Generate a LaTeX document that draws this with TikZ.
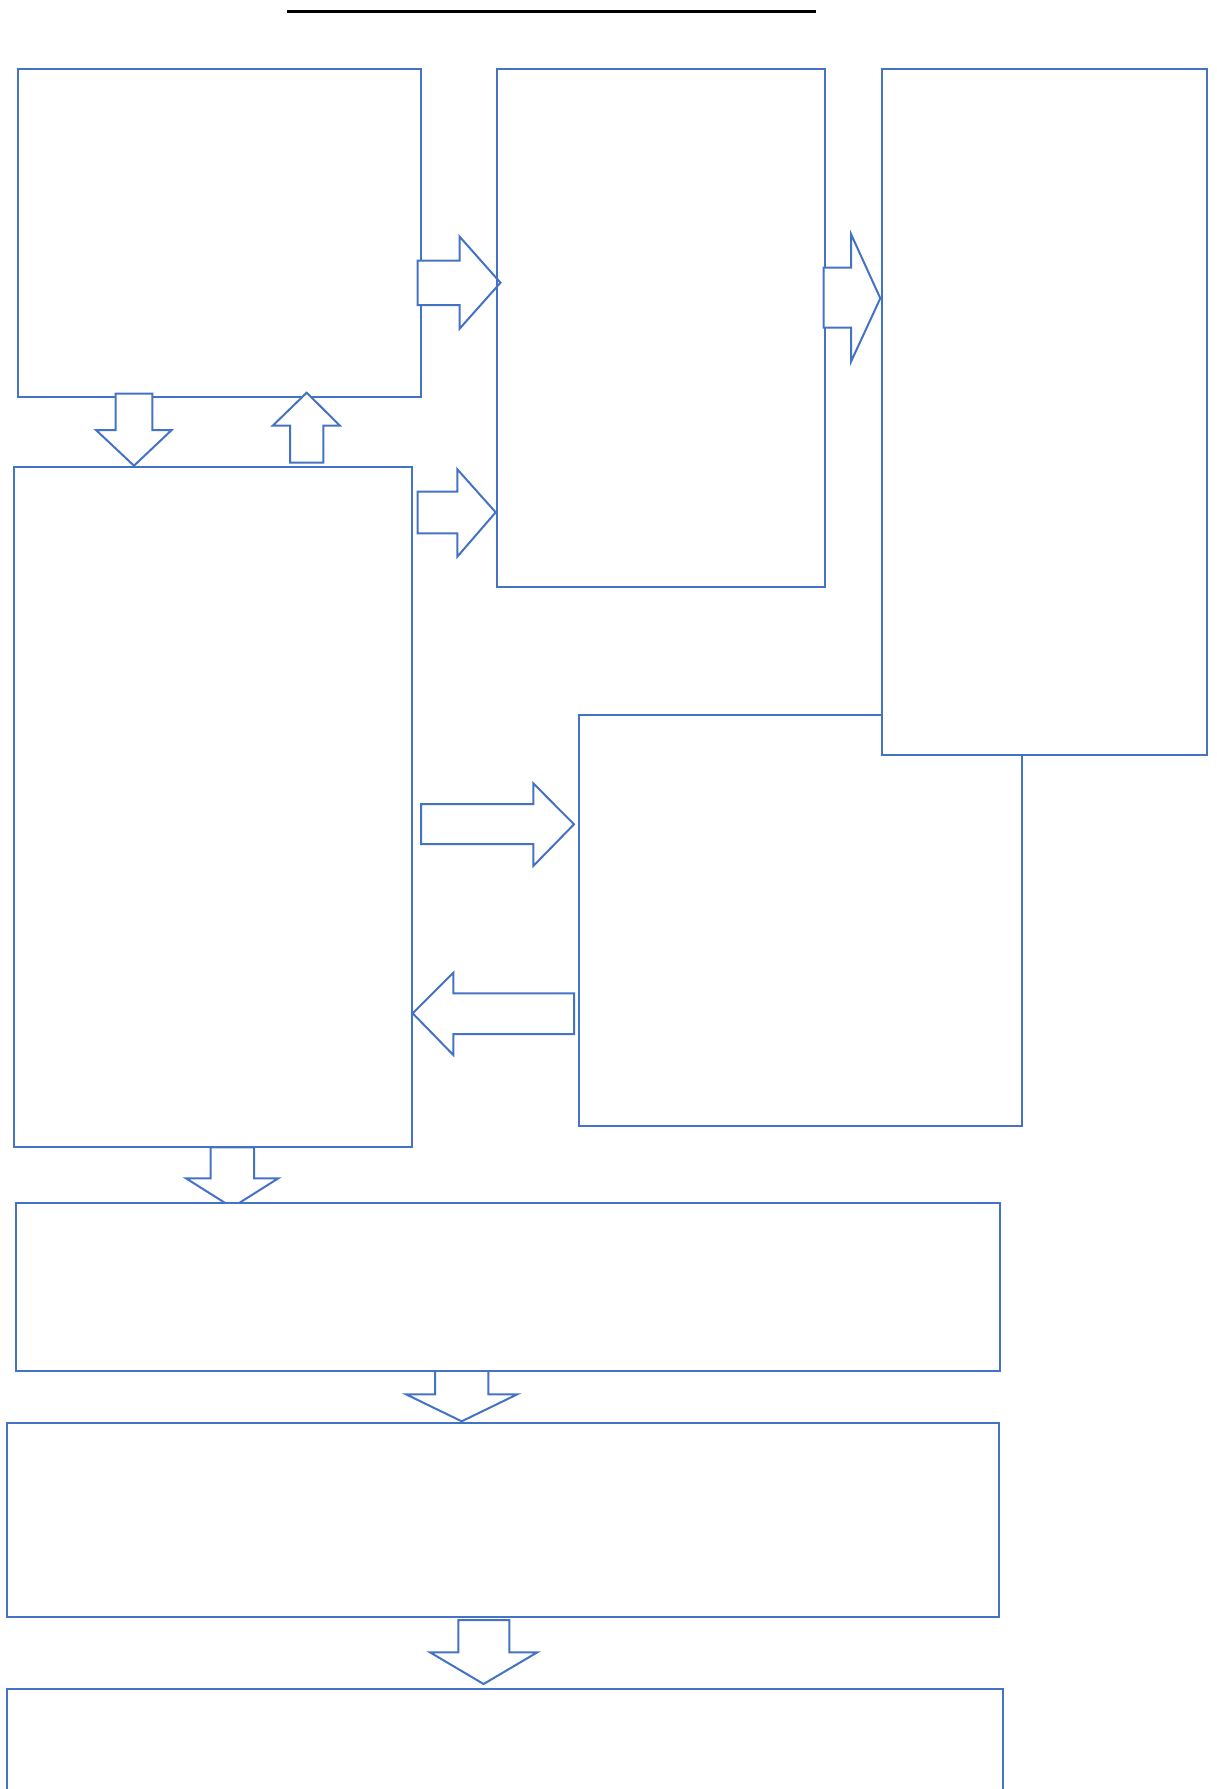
\documentclass[tikz,border=0pt]{standalone}
\usetikzlibrary{calc}
\definecolor{bblue}{RGB}{68,114,196}
\tikzset{
  box/.style={draw=bblue, line width=2pt, fill=white, inner sep=0pt, anchor=north west},
  openbox/.style={draw=bblue, line width=2pt, inner sep=0pt, anchor=north west},
  blockarrow/.style={draw=bblue, line width=2pt, fill=white, line join=miter},
  titleline/.style={draw=black, line width=3pt}
}
\begin{document}
\begin{tikzpicture}[x=1pt,y=-1pt]
\useasboundingbox (0,0) rectangle (1217,1789);
\clip (0,0) rectangle (1217,1789);
% title rule
\coordinate (t1) at (287,11.3);
\coordinate (t2) at (816,11.3);
\draw[titleline] (t1) -- (t2);
% box 1
\node[box, minimum width=402.5pt, minimum height=328pt] (b1) at (17,68) {};
% arrow box1 -> box2
\draw[blockarrow] (417.5,260.5) -- (459.5,260.5) -- (459.5,236.5) -- (500.5,282.7) -- (459.5,328.8) -- (459.5,305) -- (417.5,305) -- cycle;
% box 2
\node[openbox, minimum width=328.5pt, minimum height=518pt] (b2) at (495.7,68) {};
% box 5 and box 3
\node[box, minimum width=443.5pt, minimum height=411pt] (b5) at (577.5,714) {};
\node[box, minimum width=325.5pt, minimum height=685.5pt] (b3) at (880.5,68) {};
% arrow box2 -> box3
\draw[blockarrow] (823.5,267.7) -- (851,267.7) -- (851,234) -- (880.3,298.3) -- (851,361.7) -- (851,327.7) -- (823.5,327.7) -- cycle;
% box 4
\node[openbox, minimum width=398.5pt, minimum height=680.5pt] (b4) at (12.5,465.7) {};
% arrow box1 -> box4 (down)
\draw[blockarrow] (115.7,393.7) -- (152.3,393.7) -- (152.3,430) -- (171.7,430) -- (134,465.7) -- (96,430) -- (115.7,430) -- cycle;
% arrow box4 -> box1 (up)
\draw[blockarrow] (290,462.7) -- (323.3,462.7) -- (323.3,425.7) -- (340,425.7) -- (306.7,392.7) -- (272.7,425.7) -- (290,425.7) -- cycle;
% arrow box4 -> box2
\draw[blockarrow] (417.7,491.7) -- (457.3,491.7) -- (457.3,469.3) -- (495.7,512.3) -- (457.3,556.7) -- (457.3,533.3) -- (417.7,533.3) -- cycle;
% arrow box4 -> box5
\draw[blockarrow] (421,804) -- (533.3,804) -- (533.3,783.3) -- (574,824.3) -- (533.3,866) -- (533.3,844) -- (421,844) -- cycle;
% arrow box5 -> box4
\draw[blockarrow] (574,993.3) -- (453.3,993.3) -- (453.3,972.7) -- (412.7,1013.3) -- (453.3,1055) -- (453.3,1034) -- (574,1034) -- cycle;
% arrow box4 -> box6
\draw[blockarrow] (210.7,1147.3) -- (254,1147.3) -- (254,1178.3) -- (278.3,1178.3) -- (232.2,1207.4) -- (186,1178.3) -- (210.7,1178.3) -- cycle;
% arrow box6 -> box7
\draw[blockarrow] (435,1360) -- (488.3,1360) -- (488.3,1394.3) -- (517.3,1394.3) -- (461.7,1421.3) -- (406,1394.3) -- (435,1394.3) -- cycle;
% box 6
\node[box, minimum width=983.5pt, minimum height=167.5pt] (b6) at (15,1202) {};
% box 7
\node[box, minimum width=991.8pt, minimum height=194.5pt] (b7) at (5.7,1421.5) {};
% arrow box7 -> box8
\draw[blockarrow] (458.3,1620) -- (509.3,1620) -- (509.3,1652.3) -- (537.3,1652.3) -- (483.6,1684) -- (430,1652.3) -- (458.3,1652.3) -- cycle;
% box 8
\node[openbox, minimum width=996pt, minimum height=130pt] (b8) at (5.7,1688) {};
\end{tikzpicture}
\end{document}
